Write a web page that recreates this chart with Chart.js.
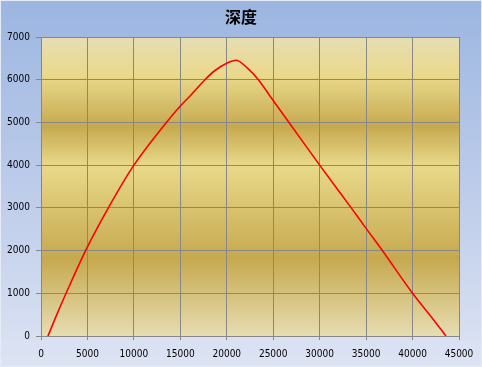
<!DOCTYPE html>
<html>
<head>
<meta charset="utf-8">
<script src="https://cdn.jsdelivr.net/npm/chart.js@4/dist/chart.umd.min.js"></script>
<style>
  html, body { margin: 0; padding: 0; background: #ffffff; }
  #wrap { width: 482px; height: 367px; }
</style>
</head>
<body>
<div id="wrap"><canvas id="depthChart" width="482" height="367"></canvas></div>
<script>
// chart title
var chartTitle = "深度";

// curve: x position and depth
var xValues = [750, 1700, 2700, 4800, 7250, 10000, 13500, 15000, 16050, 17650, 18700, 20000, 21000,
               22200, 23400, 24650, 26700, 30000, 33400, 35000, 36750, 40000, 42000, 43600];
var depthValues = [0, 500, 1000, 2000, 3000, 4000, 5000, 5385, 5620, 6000, 6210, 6385, 6455,
                   6275, 6000, 5620, 5000, 4000, 3000, 2520, 2000, 1000, 450, 0];

// axis ranges
var xMin = 0, xMax = 45000, xStep = 5000;
var yMin = 0, yMax = 7000, yStep = 1000;

var points = [];
for (var i = 0; i < xValues.length; i++) {
    points.push({ x: xValues[i], y: depthValues[i] });
}

// paint the outer blue backdrop and the gold plot area
var backdrop = {
    id: "backdrop",
    beforeDraw: function (chart) {
        var ctx = chart.ctx;
        var w = chart.width, h = chart.height;
        ctx.save();
        var g = ctx.createLinearGradient(0, 0, 0, h);
        g.addColorStop(0, "#9cb6e1");
        g.addColorStop(0.5, "#bccbea");
        g.addColorStop(1, "#dde4f3");
        ctx.fillStyle = g;
        ctx.fillRect(0, 0, w, h);
        ctx.strokeStyle = "#e6ecf7";
        ctx.lineWidth = 1;
        ctx.strokeRect(0.5, 0.5, w - 1, h - 1);

        var a = chart.chartArea;
        var pg = ctx.createLinearGradient(0, a.top, 0, a.bottom);
        pg.addColorStop(0, "#e7ddb3");
        pg.addColorStop(0.13, "#e9d98a");
        pg.addColorStop(0.30, "#c6a94f");
        pg.addColorStop(0.43, "#e9d98a");
        pg.addColorStop(0.74, "#c6a94f");
        pg.addColorStop(1, "#e7ddb2");
        ctx.fillStyle = pg;
        ctx.fillRect(a.left, a.top, a.right - a.left, a.bottom - a.top);

        // title sits over the middle of the whole picture, not the plot
        ctx.fillStyle = "#000000";
        ctx.font = "bold 16px 'Noto Sans CJK SC'";
        ctx.textAlign = "center";
        ctx.textBaseline = "middle";
        ctx.fillText(chartTitle, w / 2, 17);
        ctx.restore();
    }
};

var tickFont = { family: "'DejaVu Sans Condensed', 'DejaVu Sans'", size: 10 };
var plain = function (v) { return String(v); };

new Chart(document.getElementById("depthChart").getContext("2d"), {
    type: "scatter",
    data: {
        datasets: [{
            label: chartTitle,
            data: points,
            showLine: true,
            borderColor: "#ff0000",
            backgroundColor: "#ff0000",
            borderWidth: 1.6,
            pointRadius: 0,
            cubicInterpolationMode: "monotone"
        }]
    },
    options: {
        responsive: false,
        animation: false,
        layout: { padding: { left: 0, right: 23, top: 37, bottom: 0 } },
        plugins: {
            legend: { display: false },
            tooltip: { enabled: false },
            title: { display: false }
        },
        scales: {
            x: {
                type: "linear",
                min: xMin,
                max: xMax,
                afterFit: function (s) { s.height = 31; },
                ticks: { stepSize: xStep, color: "#000000", font: tickFont, padding: 8, maxRotation: 0, callback: plain },
                grid: { color: "#878787", lineWidth: 1, tickLength: 4, drawTicks: true },
                border: { color: "#878787", width: 1 }
            },
            y: {
                type: "linear",
                min: yMin,
                max: yMax,
                afterFit: function (s) { s.width = 41; },
                ticks: { stepSize: yStep, color: "#000000", font: tickFont, padding: 6, callback: plain },
                grid: { color: "#878787", lineWidth: 1, tickLength: 5, drawTicks: true },
                border: { color: "#878787", width: 1 }
            }
        }
    },
    plugins: [backdrop]
});
</script>
</body>
</html>
